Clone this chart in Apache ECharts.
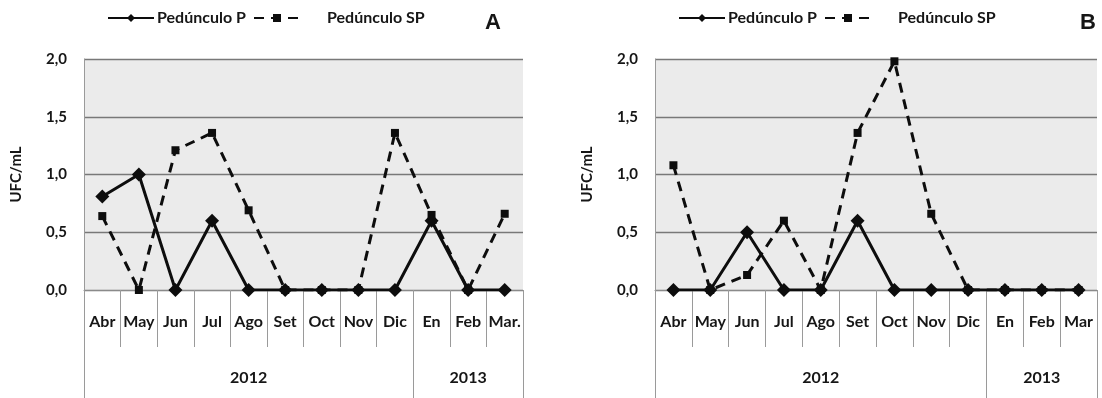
<!DOCTYPE html>
<html>
<head>
<meta charset="utf-8">
<script src="https://cdn.jsdelivr.net/npm/echarts@6/dist/echarts.min.js"></script>
<style>
  html, body { margin: 0; padding: 0; background: #fff; }
  #chart { width: 1102px; height: 398px; }
</style>
</head>
<body>
<div id="chart"></div>
<script>
// Monthly categories (April 2012 – March 2013)
const monthsA = ['Abr', 'May', 'Jun', 'Jul', 'Ago', 'Set', 'Oct', 'Nov', 'Dic', 'En', 'Feb', 'Mar.'];
const monthsB = ['Abr', 'May', 'Jun', 'Jul', 'Ago', 'Set', 'Oct', 'Nov', 'Dic', 'En', 'Feb', 'Mar'];
const years = ['2012', '2013'];
const yearSpans = [9, 3];

// UFC/mL per month
const panelA_P  = [0.81, 1.0, 0, 0.6, 0, 0, 0, 0, 0, 0.6, 0, 0];
const panelA_SP = [0.64, 0, 1.21, 1.36, 0.69, 0, 0, 0, 1.36, 0.65, 0, 0.66];
const panelB_P  = [0, 0, 0.5, 0, 0, 0.6, 0, 0, 0, 0, 0, 0];
const panelB_SP = [1.08, 0, 0.13, 0.6, 0, 1.36, 1.98, 0.66, 0, 0, 0, 0];

const yMin = 0, yMax = 2, yStep = 0.5;
const seriesNames = ['Pedúnculo P', 'Pedúnculo SP'];
const panelTitles = ['A', 'B'];

// Year row: label each year under the middle month of its span
const yearRow = [];
const yearBoundaries = [0];
years.forEach((y, i) => {
  const start = yearRow.length;
  for (let k = 0; k < yearSpans[i]; k++) {
    yearRow.push(k === Math.floor(yearSpans[i] / 2) ? y : '');
  }
  yearBoundaries.push(start + yearSpans[i]);
});

const FONT = 'Lato';
const TXT = '#161616';
const LINE = '#0d0d0d';

const grids = [
  { left: 84, top: 59, width: 439, height: 231 },
  { left: 655, top: 59, width: 442, height: 231 }
];
const offsetX = [0, 571];

const option = {
  animation: false,
  backgroundColor: '#fff',
  title: panelTitles.map((t, i) => ({
    text: t, left: i === 0 ? 480 : 1075, top: 7,
    textStyle: { fontFamily: 'Liberation Sans', fontWeight: 'bold', fontSize: 22, color: TXT }
  })),
  legend: [],
  grid: grids.map(g => Object.assign({ show: true, backgroundColor: '#ebebeb', borderWidth: 0 }, g)),
  xAxis: [],
  yAxis: [],
  series: []
};

[0, 1].forEach(p => {
  // legend entries
  option.legend.push({
    data: [seriesNames[0]], left: 107 + offsetX[p], top: 10,
    itemWidth: 46, itemHeight: 10, padding: 0,
    textStyle: { fontFamily: FONT, fontWeight: 'bold', fontSize: 16, color: TXT, padding: [0, 0, 0, -2] },
    selectedMode: false
  });
  option.legend.push({
    data: [seriesNames[1]], left: 253 + offsetX[p], top: 10,
    itemWidth: 46, itemHeight: 10, padding: 0,
    textStyle: { fontFamily: FONT, fontWeight: 'bold', fontSize: 16, color: TXT, padding: [0, 0, 0, 22] },
    selectedMode: false
  });

  // month row
  option.xAxis.push({
    type: 'category', gridIndex: p, data: p === 0 ? monthsA : monthsB,
    boundaryGap: true,
    axisLine: { show: true, lineStyle: { color: '#8a8a8a', width: 1 } },
    axisTick: { show: true, length: 57, lineStyle: { color: '#9a9a9a', width: 1 } },
    axisLabel: { interval: 0, margin: 24, fontFamily: FONT, fontWeight: 'bold', fontSize: 16, color: TXT },
    splitLine: { show: false }
  });
  // year row
  option.xAxis.push({
    type: 'category', gridIndex: p, data: yearRow, position: 'bottom', offset: 57,
    boundaryGap: true,
    axisLine: { show: false },
    axisTick: {
      show: true, length: 60,
      interval: (idx) => yearBoundaries.slice(0, -1).includes(idx),
      lineStyle: { color: '#9a9a9a', width: 1 }
    },
    axisLabel: { interval: 0, margin: 23, fontFamily: FONT, fontWeight: 'bold', fontSize: 16, color: TXT },
    splitLine: { show: false }
  });

  option.yAxis.push({
    type: 'value', gridIndex: p, min: yMin, max: yMax, interval: yStep,
    name: 'UFC/mL', nameLocation: 'middle', nameRotate: 90, nameGap: 60,
    nameTextStyle: { fontFamily: FONT, fontWeight: 'bold', fontSize: 15, color: TXT },
    axisLine: { show: true, lineStyle: { color: '#9a9a9a', width: 1 } },
    axisTick: { show: false },
    axisLabel: {
      margin: 17, fontFamily: FONT, fontWeight: 'bold', fontSize: 15, color: TXT,
      formatter: v => v.toFixed(1).replace('.', ',')
    },
    splitLine: { show: true, lineStyle: { color: '#787878', width: 1.4 } }
  });

  const P = p === 0 ? panelA_P : panelB_P;
  const SP = p === 0 ? panelA_SP : panelB_SP;
  option.series.push({
    name: seriesNames[1], type: 'line', xAxisIndex: p * 2, yAxisIndex: p, data: SP,
    symbol: 'rect', symbolSize: 8, showAllSymbol: true,
    lineStyle: { color: LINE, width: 3, type: [10, 7] },
    itemStyle: { color: LINE }, z: 2
  });
  option.series.push({
    name: seriesNames[0], type: 'line', xAxisIndex: p * 2, yAxisIndex: p, data: P,
    symbol: 'diamond', symbolSize: 14, showAllSymbol: true,
    lineStyle: { color: LINE, width: 3 },
    itemStyle: { color: LINE }, z: 3
  });
});

const chart = echarts.init(document.getElementById('chart'), null, { renderer: 'canvas' });
chart.setOption(option);
</script>
</body>
</html>
